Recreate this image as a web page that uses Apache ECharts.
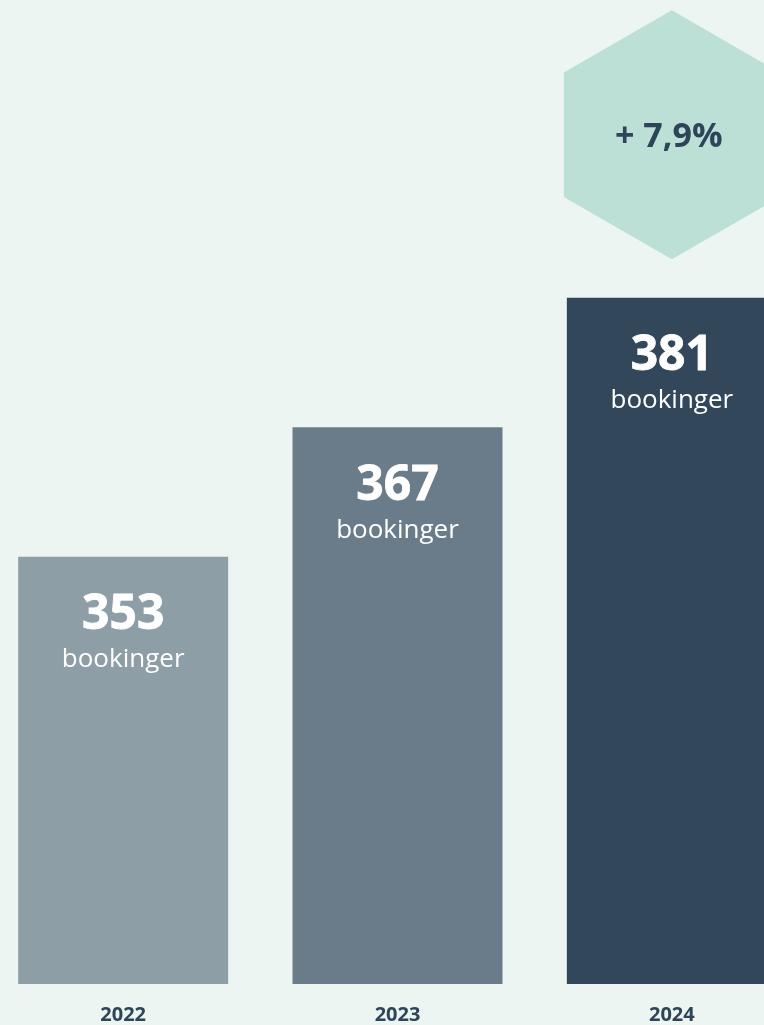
<!DOCTYPE html>
<html>
<head>
<meta charset="utf-8">
<script src="https://cdn.jsdelivr.net/npm/echarts@6/dist/echarts.min.js"></script>
<style>
  html, body { margin: 0; padding: 0; background: #ecf5f2; }
  #chart { width: 764px; height: 1025px; }
</style>
</head>
<body>
<div id="chart"></div>
<script>
// data
const years = ['2022', '2023', '2024'];
const bookings = [353, 367, 381];
const unitLabel = 'bookinger';
const barColors = ['#8e9ea6', '#6a7c8a', '#32475a'];

// growth first -> last year, shown in the hexagon
const growth = (bookings[bookings.length - 1] - bookings[0]) / bookings[0] * 100;
const growthText = '+ ' + growth.toFixed(1).replace('.', ',') + '%';

const dark = '#2e4459';
const font = '"Open Sans", "Noto Sans", sans-serif';

// pointy-top hexagon
const hexPath = 'path://M50,0 L100,25 L100,75 L50,100 L0,75 L0,25 Z';

const chart = echarts.init(document.getElementById('chart'));
chart.setOption({
  backgroundColor: '#ecf5f2',
  animation: false,
  grid: { left: -14, right: -45, top: 0, bottom: 41, outerBoundsMode: 'none', containLabel: false },
  xAxis: {
    type: 'category',
    data: years,
    axisLine: { show: false },
    axisTick: { show: false },
    axisLabel: {
      color: dark,
      fontFamily: font,
      fontWeight: 'bold',
      fontSize: 20,
      margin: 21
    }
  },
  yAxis: {
    type: 'value',
    min: 306.8,
    max: 413.2,
    show: false,
    splitLine: { show: false }
  },
  series: [
    {
      type: 'bar',
      barWidth: 210,
      data: bookings.map((v, i) => ({ value: v, itemStyle: { color: barColors[i] } })),
      label: {
        show: true,
        position: 'insideTop',
        distance: 35,
        align: 'center',
        formatter: p => '{v|' + p.value + '}\n{b|' + unitLabel + '}',
        rich: {
          v: { color: '#fff', fontFamily: font, fontWeight: 'bold', fontSize: 48, lineHeight: 48, align: 'center',
               textBorderColor: '#fff', textBorderWidth: 0.8 },
          b: { color: '#fff', fontFamily: font, fontSize: 26, lineHeight: 40, align: 'center' }
        }
      },
      markPoint: {
        silent: true,
        symbol: hexPath,
        symbolSize: [216, 249],
        symbolOffset: [0, -163],
        itemStyle: { color: '#bcdfd6' },
        label: {
          show: true,
          position: 'inside',
          offset: [-3, 3],
          color: dark,
          fontFamily: font,
          fontWeight: 'bold',
          fontSize: 34,
          formatter: growthText
        },
        data: [{ coord: [years.length - 1, bookings[bookings.length - 1]] }]
      }
    }
  ]
});
</script>
</body>
</html>
